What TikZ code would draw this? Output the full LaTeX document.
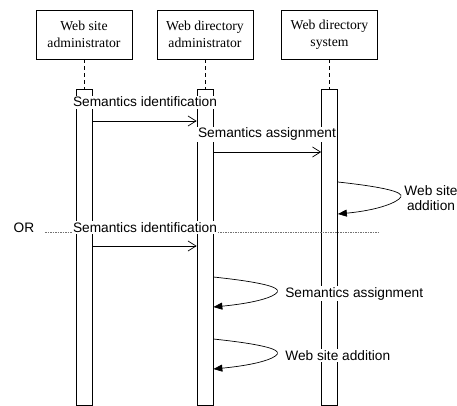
\documentclass[tikz,border=0pt]{standalone}
\usepackage{fontspec}
\setmainfont{Liberation Serif}
\newfontfamily\labelfont{Liberation Sans}
\usetikzlibrary{arrows.meta}

\begin{document}
\begin{tikzpicture}[x=1pt, y=-1pt, line width=0.7pt,
	actor/.style={draw, minimum width=96pt, minimum height=49pt, align=center, inner sep=2pt, font=\fontsize{13.7}{16.5}\selectfont},
	bar/.style={draw, fill=white, minimum width=16pt, minimum height=316pt, inner sep=0pt},
	life/.style={dash pattern=on 4pt off 3pt},
	msg/.style={-{Straight Barb[length=8pt,width=10pt]}},
	selfmsg/.style={-{Triangle[length=9pt,width=7pt]}},
	lbl/.style={fill=white, inner sep=1.5pt, font=\labelfont\fontsize{13.7}{15}\selectfont}]
	\useasboundingbox (0,0) rectangle (457,406);
	
	% actors
	\node[actor] (wsa) at (84,34.5) {Web site\\administrator};
	\node[actor] (wda) at (205,34.5) {Web directory\\administrator};
	\node[actor] (wds) at (329.5,34.5) {Web directory\\system};
	
	% activation bars
	\node[bar] (wsaBar) at (84,247) {};
	\node[bar] (wdaBar) at (205,247) {};
	\node[bar] (wdsBar) at (329.5,247) {};
	
	\draw[life] (wsa.south) -- (wsaBar.north);
	\draw[life] (wda.south) -- (wdaBar.north);
	\draw[life] (wds.south) -- (wdsBar.north);
	
	% alternative separator
	\draw[black!55, line width=0.6pt, dash pattern=on 1.5pt off 1pt] (45,232) -- (380,232);
	
	% messages
	\coordinate (m1) at (0,121);
	\coordinate (m2) at (0,152);
	\coordinate (m3) at (0,246);
	\coordinate (s1) at (0,182);
	\coordinate (s2) at (0,277);
	\coordinate (s3) at (0,339);
	
	\draw[msg] (wsaBar.east |- m1) -- (wdaBar.west |- m1);
	\draw[msg] (wdaBar.east |- m2) -- (wdsBar.west |- m2);
	\draw[msg] (wsaBar.east |- m3) -- (wdaBar.west |- m3);
	
	\draw[selfmsg] (wdsBar.east |- s1) .. controls +(46,5) and +(3,-5) .. ++(63,15) .. controls +(-3,5) and +(42,-4) .. ++(-63,17);
	\draw[selfmsg] (wdaBar.east |- s2) .. controls +(47,5) and +(3,-5) .. ++(64,15) .. controls +(-3,5) and +(42,-4) .. ++(-64,15);
	\draw[selfmsg] (wdaBar.east |- s3) .. controls +(47,5) and +(3,-5) .. ++(64,15) .. controls +(-3,5) and +(42,-4) .. ++(-64,15);
	
	% labels
	\node[lbl, anchor=base] (ident1) at (145,107) {Semantics identification};
	\node[lbl, anchor=base] (assign1) at (267,138) {Semantics assignment};
	\node[lbl, anchor=base] (orLbl) at (24,232) {OR};
	\node[lbl, anchor=base] (ident2) at (145,232) {Semantics identification};
	\node[lbl, align=center] (add1) at (431,198) {Web site\\addition};
	\node[lbl, anchor=base west] (assign2) at (283.5,297) {Semantics assignment};
	\node[lbl, anchor=base west] (add2) at (283.5,360) {Web site addition};
\end{tikzpicture}
\end{document}
